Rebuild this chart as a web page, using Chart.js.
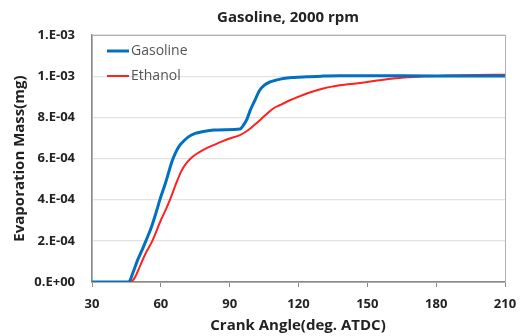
<!DOCTYPE html>
<html>
<head>
<meta charset="utf-8">
<script src="https://cdn.jsdelivr.net/npm/chart.js@4/dist/chart.umd.min.js"></script>
<style>
  html, body { margin: 0; padding: 0; background: #fff; }
  #wrap { width: 528px; height: 336px; }
</style>
</head>
<body>
<div id="wrap"><canvas id="evapChart" width="528" height="336"></canvas></div>
<script>
// ------------------------------------
// DATA
// ------------------------------------
const chartTitle = "Gasoline, 2000 rpm";
const xTitle = "Crank Angle(deg. ATDC)";
const yTitle = "Evaporation Mass(mg)";

const seriesNames = ["Gasoline", "Ethanol"];

// gasoline: crank angle (deg) / evaporated mass (mg)
const gasAngle = [30, 46, 48, 50, 52, 53.5, 56, 58, 59.6, 62, 65, 66.5, 68, 70, 72, 75, 78, 83, 88, 94.5,
                  96, 97.5, 99, 101, 103, 105, 107.6, 110, 113.4, 118, 123.6, 130, 138, 150, 180, 210];
const gasMass  = [0, 0, 0.5e-4, 1.1e-4, 1.6e-4, 2.0e-4, 2.7e-4, 3.4e-4, 4.0e-4, 4.8e-4, 5.9e-4, 6.3e-4, 6.6e-4,
                  6.85e-4, 7.05e-4, 7.22e-4, 7.3e-4, 7.38e-4, 7.4e-4, 7.43e-4,
                  7.62e-4, 7.9e-4, 8.35e-4, 8.83e-4, 9.3e-4, 9.55e-4, 9.72e-4, 9.8e-4, 9.89e-4, 9.94e-4,
                  9.97e-4, 10.0e-4, 10.02e-4, 10.02e-4, 10.01e-4, 10.01e-4];

// ethanol
const ethAngle = [30, 46.5, 48, 49.5, 51, 53, 56.3, 60, 62.3, 64, 66.9, 69, 71, 73, 75, 77, 80, 83, 86.5, 90, 94.5,
                  97, 99, 101, 103.2, 106, 109, 112, 116.3, 120, 123.6, 127, 130.8, 134, 138, 146.8, 155,
                  161.3, 168, 175.8, 185, 197.7, 210];
const ethMass  = [0, 0, 0.1e-4, 0.4e-4, 0.8e-4, 1.3e-4, 2.0e-4, 3.0e-4, 3.55e-4, 4.0e-4, 4.85e-4, 5.4e-4, 5.75e-4,
                  6.0e-4, 6.18e-4, 6.32e-4, 6.5e-4, 6.65e-4, 6.82e-4, 6.97e-4, 7.14e-4,
                  7.3e-4, 7.46e-4, 7.65e-4, 7.86e-4, 8.15e-4, 8.43e-4, 8.6e-4, 8.83e-4, 9.0e-4, 9.16e-4,
                  9.28e-4, 9.40e-4, 9.48e-4, 9.56e-4, 9.67e-4, 9.8e-4, 9.89e-4, 9.95e-4, 10.0e-4, 10.03e-4,
                  10.06e-4, 10.07e-4];

const xTicks = [30, 60, 90, 120, 150, 180, 210];
const yTicks = [0, 2e-4, 4e-4, 6e-4, 8e-4, 10e-4, 12e-4];
const yTickLabels = ["0.E+00", "2.E-04", "4.E-04", "6.E-04", "8.E-04", "1.E-03", "1.E-03"];

const colors = ["#0070C0", "#FF2020"];
const FONT = "'Open Sans', 'Noto Sans', sans-serif";

function toPoints(xs, ys) {
    return xs.map((x, i) => ({ x: x, y: ys[i] }));
}

// ------------------------------------
// TEXT / FRAME / LEGEND PLUGIN
// ------------------------------------
const decorPlugin = {
    id: "decor",
    beforeDatasetsDraw(chart) {
        const { ctx, chartArea: a } = chart;
        ctx.save();
        ctx.strokeStyle = "#b0b0b0";
        ctx.lineWidth = 1;
        ctx.strokeRect(a.left + 0.5, a.top + 0.5, a.right - a.left, a.bottom - a.top);
        ctx.restore();
    },
    afterDraw(chart) {
        const { ctx, chartArea: a } = chart;
        ctx.save();
        ctx.fillStyle = "#222";
        ctx.textAlign = "center";
        ctx.textBaseline = "middle";

        // title
        ctx.font = "bold 15px " + FONT;
        ctx.fillText(chartTitle, 288, 18);

        // x title
        ctx.font = "bold 15px " + FONT;
        ctx.fillText(xTitle, 298, 326);

        // y title
        ctx.translate(20, (a.top + a.bottom) / 2);
        ctx.rotate(-Math.PI / 2);
        ctx.fillText(yTitle, 0, 0);
        ctx.restore();

        // legend (inside plot, top-left)
        ctx.save();
        ctx.font = "14px " + FONT;
        ctx.textBaseline = "middle";
        ctx.textAlign = "left";
        seriesNames.forEach((name, i) => {
            const y = 51 + i * 25;
            ctx.strokeStyle = colors[i];
            ctx.lineWidth = i === 0 ? 3 : 2;
            ctx.beginPath();
            ctx.moveTo(107, y);
            ctx.lineTo(129, y);
            ctx.stroke();
            ctx.fillStyle = "#555";
            ctx.fillText(name, 131, y);
        });
        ctx.restore();
    }
};

// ------------------------------------
// CHART
// ------------------------------------
const ctx = document.getElementById("evapChart").getContext("2d");

new Chart(ctx, {
    type: "line",
    data: {
        datasets: [
            {
                label: seriesNames[0],
                data: toPoints(gasAngle, gasMass),
                borderColor: colors[0],
                borderWidth: 3,
                pointRadius: 0,
                cubicInterpolationMode: "monotone",
                fill: false
            },
            {
                label: seriesNames[1],
                data: toPoints(ethAngle, ethMass),
                borderColor: colors[1],
                borderWidth: 2,
                pointRadius: 0,
                cubicInterpolationMode: "monotone",
                fill: false
            }
        ]
    },
    options: {
        responsive: false,
        animation: false,
        layout: { padding: { top: 35, right: 23, left: 0, bottom: 0 } },
        plugins: {
            legend: { display: false },
            title: { display: false },
            tooltip: { enabled: false }
        },
        scales: {
            x: {
                type: "linear",
                min: xTicks[0],
                max: xTicks[xTicks.length - 1],
                afterBuildTicks: (scale) => { scale.ticks = xTicks.map(v => ({ value: v })); },
                afterFit: (scale) => { scale.height = 54; },
                grid: {
                    drawOnChartArea: false,
                    drawTicks: true,
                    tickLength: 5,
                    color: "#888"
                },
                border: { color: "#888", width: 1.5 },
                ticks: {
                    padding: 9,
                    color: "#222",
                    font: { family: FONT, size: 13, weight: "bold" }
                }
            },
            y: {
                min: yTicks[0],
                max: yTicks[yTicks.length - 1],
                afterBuildTicks: (scale) => { scale.ticks = yTicks.map(v => ({ value: v })); },
                afterFit: (scale) => { scale.width = 92; },
                grid: {
                    color: "#e2e2e2",
                    lineWidth: 1.2,
                    drawTicks: false
                },
                border: { color: "#888", width: 1.5 },
                ticks: {
                    padding: 17,
                    color: "#222",
                    font: { family: FONT, size: 13, weight: "bold" },
                    callback: (value, index) => yTickLabels[index]
                }
            }
        }
    },
    plugins: [decorPlugin]
});
</script>
</body>
</html>
